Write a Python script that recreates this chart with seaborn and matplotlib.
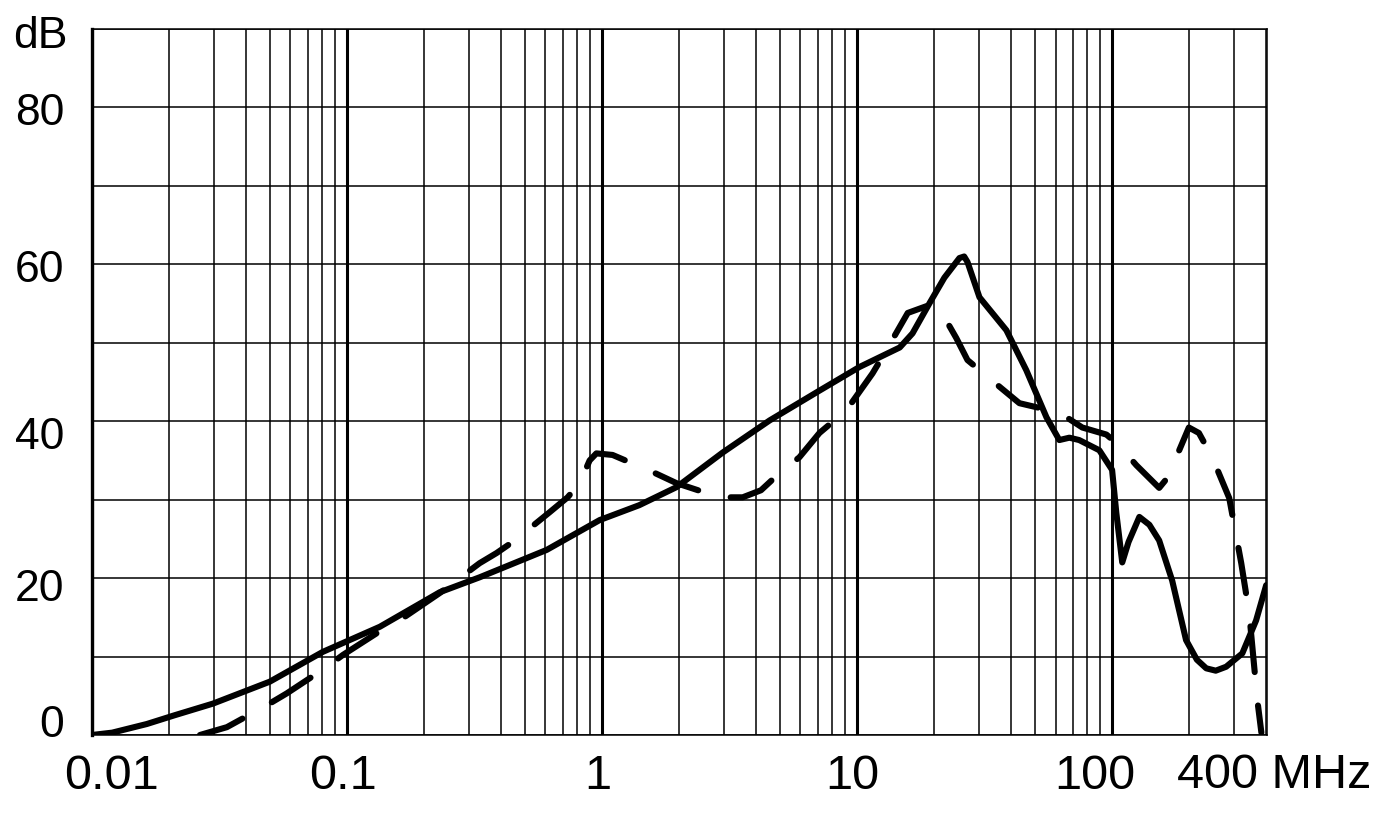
import numpy as np
import pandas as pd
import matplotlib
matplotlib.use("Agg")
import matplotlib.pyplot as plt
import matplotlib.transforms as mtransforms
from matplotlib.ticker import LogLocator, FixedLocator, NullFormatter
import seaborn as sns

# curve values (MHz, dB)
solid_f = [0.01, 0.012, 0.0164, 0.021, 0.0298, 0.0498, 0.0804, 0.1345, 0.231, 0.331, 0.607, 0.979,
           1.4, 1.96, 2.97, 4.54, 7.12, 10.2, 14.7, 16.5, 19.2, 22.0, 25.2, 26.3, 27.1, 30.2, 38.5,
           46.1, 55.3, 62.1, 68.0, 74.3, 89.1, 100, 103.9, 109.6, 116, 127.9, 140, 153, 172, 195,
           215, 234, 255, 280, 324, 367, 402]
solid_db = [0.0, 0.3, 1.4, 2.5, 4.0, 6.8, 10.6, 13.8, 18.2, 20.1, 23.6, 27.4,
            29.3, 31.6, 36.0, 40.1, 43.9, 46.9, 49.4, 51.2, 55.0, 58.3, 60.8, 61.0, 60.3, 55.8, 51.6,
            46.5, 40.5, 37.6, 37.9, 37.6, 36.3, 33.8, 28.3, 22.0, 24.6, 27.8, 26.8, 24.8, 19.7, 12.1,
            9.6, 8.5, 8.2, 8.7, 10.4, 14.6, 19.1]

dash_f = [0.0265, 0.0338, 0.0485, 0.058, 0.0818, 0.0963, 0.137, 0.1655, 0.231, 0.331,
          0.386, 0.455, 0.623, 0.733, 0.817, 0.894, 0.95, 1.10, 1.61, 1.96, 2.89, 3.56,
          4.2, 4.97, 5.94, 7.12, 9.08, 11.5, 13.0, 15.8, 19.2, 21.0, 24.5, 27.1, 36.8,
          43.3, 62.1, 76.4, 95, 106.7, 124.4, 153, 164, 178.5, 200, 219, 247, 288,
          321, 345, 371, 385]
dash_db = [0.0, 1.0, 3.8, 5.3, 8.5, 10.2, 13.4, 14.9, 18.1, 21.9,
           23.2, 24.8, 28.4, 30.3, 32.1, 35.0, 35.9, 35.7, 33.4, 32.1, 30.3, 30.3,
           31.2, 33.4, 35.4, 38.5, 41.4, 46.1, 49.0, 53.8, 54.8, 54.4, 50.6, 47.8, 44.2,
           42.3, 41.1, 39.2, 38.3, 36.9, 34.4, 31.5, 32.7, 35.4, 39.2, 38.5, 35.4, 30.2,
           21.9, 15.5, 4.5, 0.3]

major_ticks = [0.01, 0.1, 1, 10, 100]
major_labels = ["0.01", "0.1", "1", "10", "100"]
y_ticks = [0, 20, 40, 60, 80]

sns.set_style("white")
plt.rcParams["font.family"] = ["Liberation Sans", "DejaVu Sans"]
plt.rcParams["text.color"] = "black"
plt.rcParams["xtick.color"] = "black"
plt.rcParams["ytick.color"] = "black"

fig = plt.figure(figsize=(13.86, 8.19), dpi=100)
ax = fig.add_axes([92 / 1386, 1 - 735 / 819, (1267 - 92) / 1386, (735 - 29) / 819])

solid = pd.DataFrame({"f": solid_f, "db": solid_db})
dash = pd.DataFrame({"f": dash_f, "db": dash_db})

sns.lineplot(data=solid, x="f", y="db", ax=ax, color="black", lw=4.4,
             solid_capstyle="round", solid_joinstyle="round", zorder=5)
sns.lineplot(data=dash, x="f", y="db", ax=ax, color="black", lw=4.4,
             dashes=False, zorder=5)
ax.lines[-1].set_dashes((7.5, 5.5))
ax.lines[-1].set_dash_capstyle("round")
ax.lines[-1].set_dash_joinstyle("round")

ax.set_xscale("log")
ax.set_xlim(0.01, 405)
ax.set_ylim(0, 90)

ax.xaxis.set_major_locator(FixedLocator(major_ticks))
ax.set_xticklabels(major_labels)
ax.xaxis.set_minor_locator(LogLocator(base=10, subs=np.arange(2, 10), numticks=50))
ax.xaxis.set_minor_formatter(NullFormatter())
ax.set_yticks(np.arange(0, 91, 10))
ax.set_yticklabels([str(v) if v in y_ticks else "" for v in range(0, 91, 10)])

ax.grid(which="major", axis="x", color="black", lw=2.2)
ax.grid(which="minor", axis="x", color="black", lw=1.1)
ax.grid(which="major", axis="y", color="black", lw=1.1)
ax.set_axisbelow(True)

for side in ["top", "right", "bottom"]:
    ax.spines[side].set_linewidth(1.1)
    ax.spines[side].set_color("black")
ax.spines["left"].set_linewidth(2.4)
ax.spines["left"].set_color("black")

ax.tick_params(axis="both", which="both", length=0)
ax.tick_params(axis="x", labelsize=35, pad=14)
ax.tick_params(axis="y", labelsize=32, pad=20)
ax.set_xlabel("")
ax.set_ylabel("")

# small nudges of the tick labels to follow the reference
x_shift = {"0.01": 20, "0.1": -4, "1": -4, "10": -5, "100": -17}
for lab in ax.get_xticklabels():
    dx = x_shift.get(lab.get_text(), 0)
    lab.set_transform(lab.get_transform() + mtransforms.ScaledTranslation(dx / 100, 0, fig.dpi_scale_trans))
y_shift = {"0": 14, "20": -7, "40": -12, "60": -2, "80": -2}
for lab in ax.get_yticklabels():
    dy = y_shift.get(lab.get_text(), 0)
    lab.set_transform(lab.get_transform() + mtransforms.ScaledTranslation(0, dy / 100, fig.dpi_scale_trans))

fig.text(13 / 1386, 1 - 36 / 819, "dB", fontsize=32, va="center", ha="left")
fig.text(1177 / 1386, 1 - 776 / 819, "400 MHz", fontsize=35, va="center", ha="left")

fig.savefig("out.png", dpi=100, facecolor="white")
